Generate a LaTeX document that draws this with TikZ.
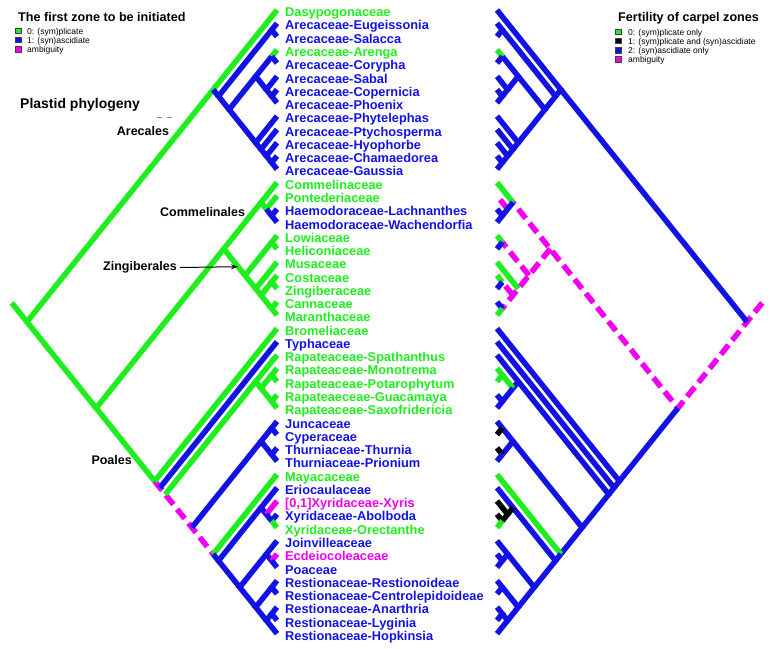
\documentclass[tikz,border=0pt]{standalone}
\usepackage{fontspec}
\setmainfont{Liberation Sans}
\usetikzlibrary{calc,arrows.meta}
\definecolor{cg}{RGB}{30,238,30}
\definecolor{cb}{RGB}{18,18,228}
\definecolor{cm}{RGB}{240,0,240}
\definecolor{ck}{RGB}{0,0,0}
\newcommand\mk[2]{%
  \coordinate (L#1-#2) at ({277-5.32*(#2-#1)},{10+13.27*((#1+#2)/2-1)});%
  \coordinate (R#1-#2) at ({497+5.32*(#2-#1)},{10+13.27*((#1+#2)/2-1)});}
\newcommand\lab[3]{\node[leaflab, text=#2] (t#1) at (285,{16.7+13.27*(#1-1)}) {#3};}
\tikzset{
  brn/.style={line width=5.5pt, line cap=butt, line join=miter},
  gbr/.style={brn, draw=cg},
  bbr/.style={brn, draw=cb},
  kbr/.style={brn, draw=ck},
  msol/.style={brn, draw=cm},
  mbr/.style={brn, draw=cm, dash pattern=on 12pt off 6pt},
  leaflab/.style={anchor=base west, inner sep=0pt, font=\fontsize{12.8}{13}\selectfont\bfseries},
  heading/.style={inner sep=0pt, font=\fontsize{12.6}{13}\selectfont\bfseries},
  cladelab/.style={inner sep=0pt, font=\fontsize{12.5}{13}\selectfont\bfseries},
  legtext/.style={anchor=base west, inner sep=0pt, font=\fontsize{8.5}{9}\selectfont},
  legbox/.style={draw=black!75, line width=0.5pt},
}
\begin{document}
\begin{tikzpicture}[x=1pt,y=-1pt]
\useasboundingbox (0,0) rectangle (778,648);
% ---- node positions ----
\foreach \i in {1,...,48}{\mk{\i}{\i}}
\mk{1}{48}\mk{1}{13}\mk{2}{13}\mk{2}{3}\mk{4}{13}\mk{4}{8}\mk{4}{5}\mk{6}{8}\mk{7}{8}
\mk{9}{13}\mk{10}{13}\mk{11}{13}\mk{12}{13}
\mk{14}{48}\mk{14}{24}\mk{14}{17}\mk{15}{17}\mk{16}{17}\mk{18}{24}\mk{18}{19}\mk{20}{24}
\mk{21}{24}\mk{21}{22}\mk{23}{24}
\mk{25}{48}\mk{26}{48}\mk{27}{48}\mk{27}{31}\mk{28}{31}\mk{28}{29}\mk{30}{31}
\mk{32}{48}\mk{32}{35}\mk{32}{33}\mk{34}{35}\mk{36}{48}\mk{37}{48}\mk{37}{40}\mk{38}{40}
\mk{39}{40}\mk{41}{48}\mk{41}{43}\mk{42}{43}\mk{44}{48}\mk{44}{45}\mk{46}{48}\mk{46}{47}
\coordinate (Lst) at ($(L1-48)!-0.22!(L14-48)$);
\coordinate (Rst) at ($(R1-48)!-0.22!(R14-48)$);

% ================= LEFT TREE =================
\draw[mbr] (L25-48) -- (L26-48) -- (L27-48) -- (L32-48) -- (L36-48);
\draw[gbr] (Lst) -- (L1-48);
\draw[gbr] (L1-13) -- (L1-48) -- (L14-48);
\draw[gbr] (L1-1) -- (L1-13);
\draw[bbr] (L1-13) -- (L2-13);
\draw[bbr] (L2-3) -- (L2-13) -- (L4-13);
\draw[bbr] (L2-2) -- (L2-3) -- (L3-3);
\draw[bbr] (L4-8) -- (L4-13) -- (L9-13);
\draw[bbr] (L4-5) -- (L4-8) -- (L6-8);
\draw[gbr] (L4-5) -- (L4-4);
\draw[bbr] (L4-5) -- (L5-5);
\draw[bbr] (L6-6) -- (L6-8) -- (L7-8);
\draw[bbr] (L7-7) -- (L7-8) -- (L8-8);
\draw[bbr] (L9-9) -- (L9-13) -- (L10-13);
\draw[bbr] (L10-10) -- (L10-13) -- (L11-13);
\draw[bbr] (L11-11) -- (L11-13) -- (L12-13);
\draw[bbr] (L12-12) -- (L12-13) -- (L13-13);
\draw[gbr] (L14-24) -- (L14-48) -- (L25-48);
\draw[gbr] (L14-17) -- (L14-24) -- (L18-24);
\draw[gbr] (L14-14) -- (L14-17) -- (L15-17);
\draw[gbr] (L15-15) -- (L15-17);
\draw[bbr] (L15-17) -- (L16-17);
\draw[bbr] (L16-16) -- (L16-17) -- (L17-17);
\draw[gbr] (L18-19) -- (L18-24) -- (L20-24);
\draw[gbr] (L18-18) -- (L18-19) -- (L19-19);
\draw[gbr] (L20-20) -- (L20-24) -- (L21-24);
\draw[gbr] (L21-22) -- (L21-24) -- (L23-24);
\draw[gbr] (L21-21) -- (L21-22) -- (L22-22);
\draw[gbr] (L23-23) -- (L23-24) -- (L24-24);
\draw[gbr] (L25-48) -- (L25-25);
\draw[bbr] (L26-48) -- (L26-26);
\draw[gbr] (L27-48) -- (L27-31);
\draw[gbr] (L27-27) -- (L27-31) -- (L28-31);
\draw[gbr] (L28-29) -- (L28-31) -- (L30-31);
\draw[gbr] (L28-28) -- (L28-29) -- (L29-29);
\draw[gbr] (L30-30) -- (L30-31) -- (L31-31);
\draw[bbr] (L32-48) -- (L32-35);
\draw[bbr] (L32-33) -- (L32-35) -- (L34-35);
\draw[bbr] (L32-32) -- (L32-33) -- (L33-33);
\draw[bbr] (L34-34) -- (L34-35) -- (L35-35);
\draw[gbr] (L36-48) -- (L36-36);
\draw[bbr] (L36-48) -- (L37-48);
\draw[bbr] (L37-40) -- (L37-48) -- (L41-48);
\draw[bbr] (L37-37) -- (L37-40) -- (L38-40);
\draw[msol] (L38-40) -- (L38-38);
\draw[bbr] (L38-40) -- (L39-40);
\draw[bbr] (L39-40) -- (L39-39);
\draw[gbr] (L39-40) -- (L40-40);
\draw[bbr] (L41-43) -- (L41-48) -- (L44-48);
\draw[bbr] (L41-41) -- (L41-43) -- (L42-43);
\draw[msol] (L42-43) -- (L42-42);
\draw[bbr] (L42-43) -- (L43-43);
\draw[bbr] (L44-45) -- (L44-48) -- (L46-48);
\draw[bbr] (L44-44) -- (L44-45) -- (L45-45);
\draw[bbr] (L46-47) -- (L46-48) -- (L48-48);
\draw[bbr] (L46-46) -- (L46-47) -- (L47-47);

% ================= RIGHT TREE =================
\draw[mbr] (Rst) -- (R1-48) -- (R14-48) -- (R14-24) -- (R14-17);
\draw[mbr] (R14-24) -- (R18-24) -- (R20-24) -- (R21-24) -- (R23-24);
\draw[mbr] (R18-24) -- (R18-19);
\draw[mbr] (R21-24) -- (R21-22);
\draw[mbr] (R15-17) -- (R15-15);
\draw[bbr] (R1-48) -- (R1-13);
\draw[bbr] (R1-1) -- (R1-13) -- (R2-13);
\draw[bbr] (R2-3) -- (R2-13) -- (R4-13);
\draw[bbr] (R2-2) -- (R2-3) -- (R3-3);
\draw[bbr] (R4-8) -- (R4-13) -- (R9-13);
\draw[bbr] (R4-5) -- (R4-8) -- (R6-8);
\draw[gbr] (R4-5) -- (R4-4);
\draw[bbr] (R4-5) -- (R5-5);
\draw[bbr] (R6-6) -- (R6-8) -- (R7-8);
\draw[bbr] (R7-7) -- (R7-8) -- (R8-8);
\draw[bbr] (R9-9) -- (R9-13) -- (R10-13);
\draw[bbr] (R10-10) -- (R10-13) -- (R11-13);
\draw[bbr] (R11-11) -- (R11-13) -- (R12-13);
\draw[bbr] (R12-12) -- (R12-13) -- (R13-13);
\draw[bbr] (R14-48) -- (R25-48);
\draw[gbr] (R14-17) -- (R14-14);
\draw[bbr] (R14-17) -- (R15-17) -- (R16-17);
\draw[bbr] (R16-16) -- (R16-17) -- (R17-17);
\draw[gbr] (R18-19) -- (R18-18);
\draw[bbr] (R18-19) -- (R19-19);
\draw[gbr] (R20-24) -- (R20-20);
\draw[gbr] (R21-22) -- (R21-21);
\draw[bbr] (R21-22) -- (R22-22);
\draw[bbr] (R23-24) -- (R23-23);
\draw[gbr] (R23-24) -- (R24-24);
\draw[bbr] (R25-25) -- (R25-48) -- (R26-48);
\draw[bbr] (R26-26) -- (R26-48) -- (R27-48);
\draw[bbr] (R27-31) -- (R27-48) -- (R32-48);
\draw[bbr] (R27-27) -- (R27-31) -- (R28-31);
\draw[gbr] (R28-31) -- (R28-29);
\draw[gbr] (R28-28) -- (R28-29) -- (R29-29);
\draw[bbr] (R28-31) -- (R30-31);
\draw[bbr] (R30-30) -- (R30-31) -- (R31-31);
\draw[bbr] (R32-35) -- (R32-48) -- (R36-48);
\draw[bbr] (R32-33) -- (R32-35) -- (R34-35);
\draw[bbr] (R32-33) -- (R32-32);
\draw[kbr] (R32-33) -- (R33-33);
\draw[kbr] (R34-35) -- (R34-34);
\draw[bbr] (R34-35) -- (R35-35);
\draw[gbr] (R36-48) -- (R36-36);
\draw[bbr] (R36-48) -- (R37-48);
\draw[bbr] (R37-40) -- (R37-48) -- (R41-48);
\draw[bbr] (R37-40) -- (R37-37);
\draw[kbr] (R37-40) -- (R38-40);
\draw[kbr] (R38-38) -- (R38-40) -- (R39-40);
\draw[kbr] (R39-40) -- (R39-39);
\draw[gbr] (R39-40) -- (R40-40);
\draw[bbr] (R41-43) -- (R41-48) -- (R44-48);
\draw[bbr] (R41-41) -- (R41-43) -- (R42-43);
\draw[bbr] (R42-42) -- (R42-43) -- (R43-43);
\draw[bbr] (R44-45) -- (R44-48) -- (R46-48);
\draw[bbr] (R44-44) -- (R44-45) -- (R45-45);
\draw[bbr] (R46-47) -- (R46-48) -- (R48-48);
\draw[bbr] (R46-46) -- (R46-47) -- (R47-47);

% ================= LEAF LABELS =================
\lab{1}{cg}{Dasypogonaceae}
\lab{2}{cb}{Arecaceae-Eugeissonia}
\lab{3}{cb}{Arecaceae-Salacca}
\lab{4}{cg}{Arecaceae-Arenga}
\lab{5}{cb}{Arecaceae-Corypha}
\lab{6}{cb}{Arecaceae-Sabal}
\lab{7}{cb}{Arecaceae-Copernicia}
\lab{8}{cb}{Arecaceae-Phoenix}
\lab{9}{cb}{Arecaceae-Phytelephas}
\lab{10}{cb}{Arecaceae-Ptychosperma}
\lab{11}{cb}{Arecaceae-Hyophorbe}
\lab{12}{cb}{Arecaceae-Chamaedorea}
\lab{13}{cb}{Arecaceae-Gaussia}
\lab{14}{cg}{Commelinaceae}
\lab{15}{cg}{Pontederiaceae}
\lab{16}{cb}{Haemodoraceae-Lachnanthes}
\lab{17}{cb}{Haemodoraceae-Wachendorfia}
\lab{18}{cg}{Lowiaceae}
\lab{19}{cg}{Heliconiaceae}
\lab{20}{cg}{Musaceae}
\lab{21}{cg}{Costaceae}
\lab{22}{cg}{Zingiberaceae}
\lab{23}{cg}{Cannaceae}
\lab{24}{cg}{Maranthaceae}
\lab{25}{cg}{Bromeliaceae}
\lab{26}{cb}{Typhaceae}
\lab{27}{cg}{Rapateaceae-Spathanthus}
\lab{28}{cg}{Rapateaceae-Monotrema}
\lab{29}{cg}{Rapateaceae-Potarophytum}
\lab{30}{cg}{Rapateaeceae-Guacamaya}
\lab{31}{cg}{Rapateaceae-Saxofridericia}
\lab{32}{cb}{Juncaceae}
\lab{33}{cb}{Cyperaceae}
\lab{34}{cb}{Thurniaceae-Thurnia}
\lab{35}{cb}{Thurniaceae-Prionium}
\lab{36}{cg}{Mayacaceae}
\lab{37}{cb}{Eriocaulaceae}
\lab{38}{cm}{[0,1]Xyridaceae-Xyris}
\lab{39}{cb}{Xyridaceae-Abolboda}
\lab{40}{cg}{Xyridaceae-Orectanthe}
\lab{41}{cb}{Joinvilleaceae}
\lab{42}{cm}{Ecdeiocoleaceae}
\lab{43}{cb}{Poaceae}
\lab{44}{cb}{Restionaceae-Restionoideae}
\lab{45}{cb}{Restionaceae-Centrolepidoideae}
\lab{46}{cb}{Restionaceae-Anarthria}
\lab{47}{cb}{Restionaceae-Lyginia}
\lab{48}{cb}{Restionaceae-Hopkinsia}

% ================= LEFT LEGEND & CLADE LABELS =================
\node[heading, anchor=base west] (ltitle) at (18,21) {The first zone to be initiated};
\draw[legbox, fill=cg] (15,28) rectangle (21,33.5);
\draw[legbox, fill=cb] (15,37.2) rectangle (21,42.7);
\draw[legbox, fill=cm] (15,46.4) rectangle (21,51.9);
\node[legtext] (l0) at (27,34) {0: (sym)plicate};
\node[legtext] (l1) at (27,43.2) {1: (syn)ascidiate};
\node[legtext] (l2) at (27,52.4) {ambiguity};
\node[inner sep=0pt, anchor=base west, font=\fontsize{14}{15}\selectfont\bfseries] (plast) at (20,108.5) {Plastid phylogeny};
\draw[black!45, line width=1.2pt] (157,117.3) -- (162,117.3) (167,117.3) -- (172,117.3);
\node[cladelab, anchor=base west] (arec) at (116.7,135) {Arecales};
\node[cladelab, anchor=base west] (comm) at (160,216.7) {Commelinales};
\node[cladelab, anchor=base east] (zing) at (177,270.7) {Zingiberales};
\coordinate (zarrow) at (238,266.7);
\draw[line width=1pt, -{Stealth[length=7pt,width=5pt]}] ($(zing.east)+(3,0)$) coordinate (zs) -- (zarrow);
\node[cladelab, anchor=base east] (poal) at (132,464) {Poales};

% ================= RIGHT LEGEND =================
\node[heading, anchor=base west] (rtitle) at (618,21) {Fertility of carpel zones};
\draw[legbox, fill=cg] (615.5,29) rectangle (621.5,34.5);
\draw[legbox, fill=ck] (615.5,38.2) rectangle (621.5,43.7);
\draw[legbox, fill=cb] (615.5,47.4) rectangle (621.5,52.9);
\draw[legbox, fill=cm] (615.5,56.6) rectangle (621.5,62.1);
\node[legtext] (r0) at (628,35) {0: (sym)plicate only};
\node[legtext] (r1) at (628,44.2) {1: (sym)plicate and (syn)ascidiate};
\node[legtext] (r2) at (628,53.4) {2: (syn)ascidiate only};
\node[legtext] (r3) at (628,62.6) {ambiguity};
\end{tikzpicture}
\end{document}
